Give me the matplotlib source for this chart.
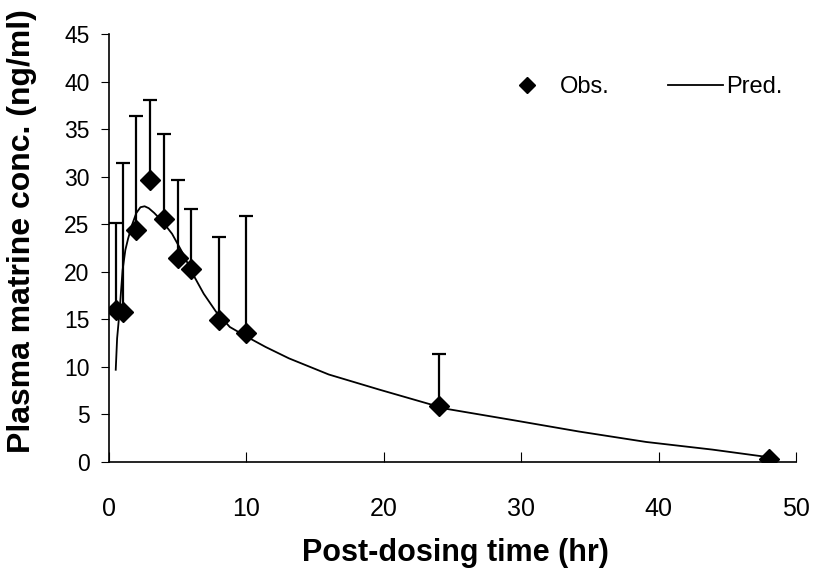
import matplotlib
matplotlib.use("Agg")
import matplotlib.pyplot as plt
from matplotlib import font_manager

# observed plasma concentrations (mean, upper SD bar)
obs_time = [0.5, 1, 2, 3, 4, 5, 6, 8, 10, 24, 48]
obs_conc = [16.0, 15.8, 24.4, 29.7, 25.6, 21.5, 20.3, 14.9, 13.6, 5.9, 0.3]
obs_upper = [25.1, 31.5, 36.4, 38.1, 34.5, 29.7, 26.6, 23.7, 25.9, 11.4, 0.3]

# model prediction
pred_time = [0.5, 0.6, 0.77, 1.0, 1.2, 1.4, 1.7, 2.0, 2.3, 2.6, 2.9, 3.3, 3.9,
             4.6, 5.4, 6.1, 6.9, 7.8, 8.8, 10.0, 11.4, 13.1, 16.0, 19.7, 24.5,
             29.4, 34.2, 39.1, 43.9, 48.0]
pred_conc = [9.7, 13.0, 15.7, 20.2, 22.3, 23.5, 25.0, 26.2, 26.8, 26.9, 26.7, 26.2,
             25.3, 24.0, 21.9, 19.8, 17.7, 15.8, 14.2, 13.2, 12.1, 10.9, 9.2, 7.6,
             5.6, 4.4, 3.2, 2.1, 1.3, 0.5]

names = {f.name for f in font_manager.fontManager.ttflist}
base = "Liberation Sans" if "Liberation Sans" in names else "DejaVu Sans"
plt.rcParams["font.family"] = [base, "DejaVu Sans"]

fig = plt.figure(figsize=(8.31, 5.71), dpi=100)
ax = fig.add_axes([0.131, 0.191, 0.827, 0.749])

ax.plot(pred_time, pred_conc, color="black", lw=1.3, label="Pred.")
err_up = [u - c for u, c in zip(obs_upper, obs_conc)]
ax.errorbar(obs_time, obs_conc, yerr=[[0] * len(obs_conc), err_up],
            fmt="none", ecolor="black", elinewidth=1.6, capsize=5, capthick=1.6)
ax.plot(obs_time, obs_conc, "D", color="black", markersize=10.5, ls="none",
        label="Obs.", zorder=5)

ax.set_xlim(0, 50)
ax.set_ylim(0, 45)
ax.set_xticks(range(0, 51, 10))
ax.set_yticks(range(0, 46, 5))
for s in ["top", "right"]:
    ax.spines[s].set_visible(False)
ax.spines["left"].set_linewidth(1.2)
ax.spines["bottom"].set_linewidth(1.2)
ax.tick_params(axis="x", direction="in", length=7, pad=25, labelsize=18)
ax.tick_params(axis="y", direction="out", length=6, pad=8, labelsize=16.5)

ax.set_xlabel("Post-dosing time (hr)", fontsize=22, fontweight="bold")
ax.set_ylabel("Plasma matrine conc. (ng/ml)", fontsize=23, fontweight="bold")
ax.xaxis.set_label_coords(0.505, -0.213)
ax.xaxis.label.set_va("center")
ax.yaxis.set_label_coords(-0.127, 0.54)
ax.yaxis.label.set_va("center")

h, l = ax.get_legend_handles_labels()
leg_obs = ax.legend([h[1]], [l[1]], frameon=False, fontsize=17,
                    loc="center left", bbox_to_anchor=(0.584, 0.876),
                    borderaxespad=0, borderpad=0, handlelength=1.4,
                    handletextpad=0.7, markerscale=0.8)
ax.add_artist(leg_obs)
ax.legend([h[0]], [l[0]], frameon=False, fontsize=17,
          loc="center left", bbox_to_anchor=(0.814, 0.876),
          borderaxespad=0, borderpad=0, handlelength=2.33, handletextpad=0.1)

fig.savefig("out.png", dpi=100)
